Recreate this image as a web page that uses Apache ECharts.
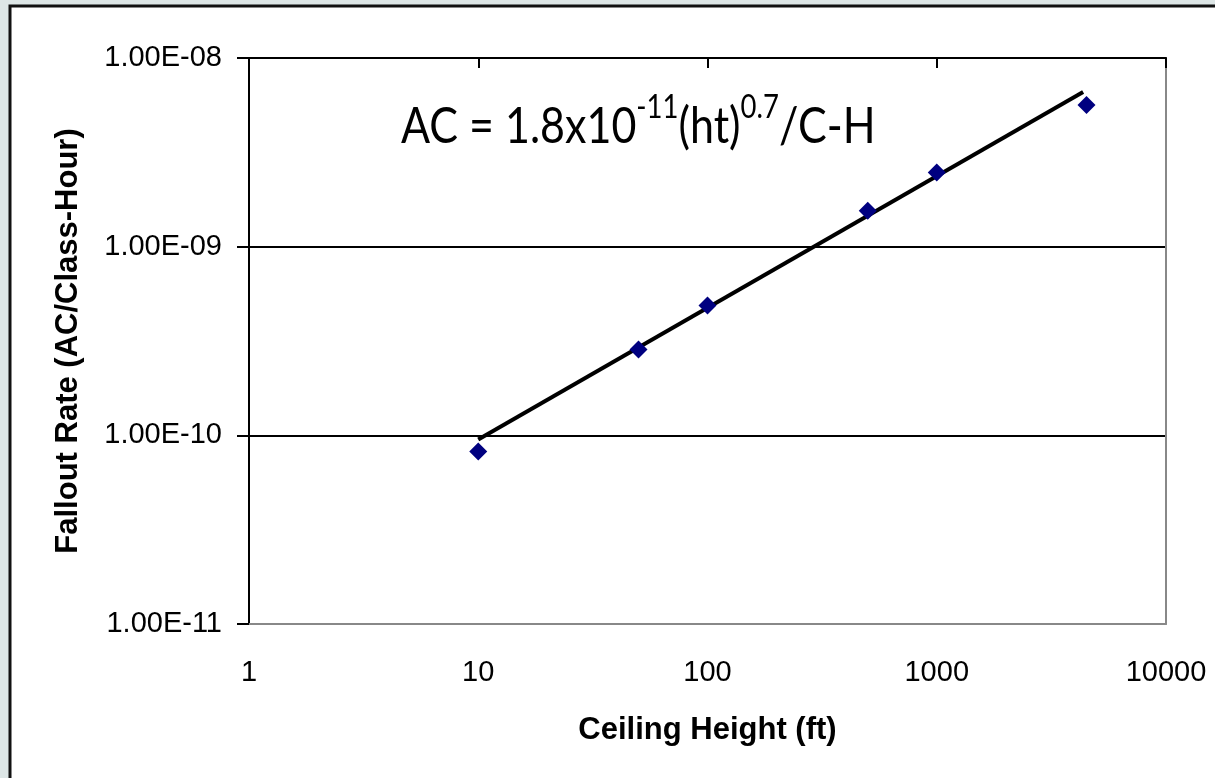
<!DOCTYPE html>
<html>
<head>
<meta charset="utf-8">
<script src="https://cdn.jsdelivr.net/npm/echarts@6/dist/echarts.min.js"></script>
<style>
html,body{margin:0;padding:0;background:#dde6e6;}
#chart{width:1215px;height:778px;}
</style>
</head>
<body>
<div id="chart"></div>
<script>
// Data
const heights = [10, 50, 100, 500, 1000, 4500];
const falloutRates = [8.2e-11, 2.85e-10, 4.87e-10, 1.55e-9, 2.47e-9, 5.64e-9];
// Trend line endpoints as drawn
const trendHeights = [10, 4350];
const trendRates = [9.5e-11, 6.6e-9];
const xTickLabels = ['1', '10', '100', '1000', '10000'];
const yTickLabels = ['1.00E-11', '1.00E-10', '1.00E-09', '1.00E-08'];

const chart = echarts.init(document.getElementById('chart'));
const pts = heights.map((h, i) => [h, falloutRates[i]]);
const trend = trendHeights.map((h, i) => [h, trendRates[i]]);

chart.setOption({
  backgroundColor: '#dde6e6',
  animation: false,
  graphic: [{
    type: 'rect', z: -100, silent: true,
    shape: {x: 10, y: 6, width: 1300, height: 900},
    style: {fill: '#ffffff', stroke: '#111', lineWidth: 3}
  }, {
    type: 'text', z: 10,
    x: 401, y: 92, scaleX: 0.86, scaleY: 1,
    style: {
      text: '{a|AC = 1.8x10}{s|-11}{a|(ht)}{s|0.7}{a|/C-H}',
      rich: {
        a: {fontFamily: 'Lato', fontSize: 50, fill: '#000', lineHeight: 60, verticalAlign: 'bottom'},
        s: {fontFamily: 'Lato', fontSize: 32, fill: '#000', lineHeight: 60, verticalAlign: 'top'}
      }
    }
  }],
  grid: {left: 249, right: 49, top: 58, bottom: 154, containLabel: false},
  xAxis: [{
    type: 'log', logBase: 10, min: 1, max: 10000, position: 'bottom',
    name: 'Ceiling Height (ft)', nameLocation: 'middle', nameGap: 91,
    nameTextStyle: {fontFamily: 'Liberation Sans', fontWeight: 'bold', fontSize: 31, color: '#000'},
    axisLine: {show: true, onZero: false, lineStyle: {color: '#888', width: 2}},
    axisTick: {show: false},
    axisLabel: {
      margin: 34, fontFamily: 'Liberation Sans', fontSize: 29, color: '#000',
      formatter: v => xTickLabels[Math.round(Math.log10(v))]
    },
    splitLine: {show: false},
    minorTick: {show: false}
  }, {
    type: 'log', logBase: 10, min: 1, max: 10000, position: 'top',
    axisLine: {show: true, onZero: false, lineStyle: {color: '#000', width: 2}},
    axisTick: {show: true, inside: true, length: 10, lineStyle: {color: '#000', width: 2}},
    axisLabel: {show: false},
    splitLine: {show: false}
  }],
  yAxis: [{
    type: 'log', logBase: 10, min: 1e-11, max: 1e-8, position: 'left',
    name: 'Fallout Rate (AC/Class-Hour)', nameLocation: 'middle', nameGap: 165,
    nameTextStyle: {fontFamily: 'Liberation Sans', fontWeight: 'bold', fontSize: 31, color: '#000'},
    axisLine: {show: true, onZero: false, lineStyle: {color: '#000', width: 2}},
    axisTick: {show: true, length: 12, lineStyle: {color: '#000', width: 2}},
    axisLabel: {
      margin: 27, fontFamily: 'Liberation Sans', fontSize: 29, color: '#000',
      formatter: v => yTickLabels[Math.round(Math.log10(v)) + 11]
    },
    splitLine: {show: true, showMinLine: false, showMaxLine: false, lineStyle: {color: '#000', width: 2}}
  }, {
    type: 'log', logBase: 10, min: 1e-11, max: 1e-8, position: 'right',
    axisLine: {show: true, onZero: false, lineStyle: {color: '#888', width: 2}},
    axisTick: {show: false}, axisLabel: {show: false}, splitLine: {show: false}
  }],
  series: [{
    type: 'line', data: trend, symbol: 'none', z: 3,
    lineStyle: {color: '#000', width: 4}
  }, {
    type: 'scatter', data: pts, symbol: 'diamond', symbolSize: 18, z: 4,
    itemStyle: {color: '#000080', opacity: 1}
  }]
});
</script>
</body>
</html>
